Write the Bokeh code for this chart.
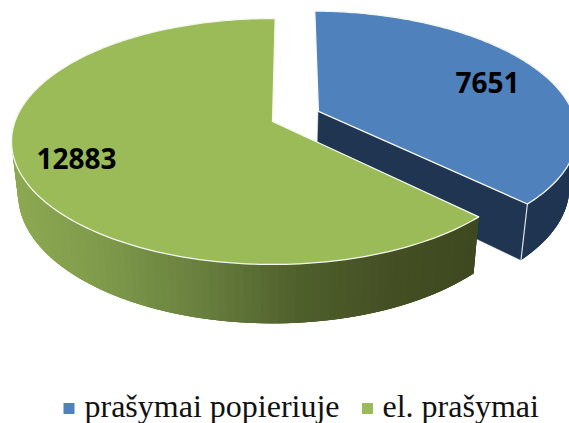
import numpy as np
from bokeh.plotting import figure
from bokeh.models import Range1d
from bokeh.embed import file_html
from bokeh.resources import INLINE
from bokeh.core.properties import value

categories = ["prašymai popieriuje", "el. prašymai"]
values = [7651, 12883]
top_colors = ["#4F81BD", "#9BBB59"]
explode = [0.2, 0.0]

# projection of the tilted disc, in page pixels
CX, CY, A, B, K = 272.0, 121.0, 257.5, 119.7, 0.1626
START_DEG = 0.7
DEPTH = 59.0
EXPLODE_TURN_DEG = -3.0
# part of each slice's rim that can show below its top face (degrees from its start)
SIDE_SKIP = [40.0, 0.0]
SIDE_STOP = [0.0, 30.0]


def project(u, v):
    d = 1 + K * v
    return CX + A * u / d, CY - B * v / d


def drop(x, y):
    return CX + 0.975 * (x - CX), y + DEPTH - 0.05 * (264 - y)


def lerp_colour(x, stops):
    xs = [s[0] for s in stops]
    rgb = [[int(s[1][i:i + 2], 16) for i in (1, 3, 5)] for s in stops]
    c = [np.interp(x, xs, [r[j] for r in rgb]) for j in range(3)]
    return "#%02x%02x%02x" % tuple(int(round(t)) for t in c)


GREEN_SIDE = [(18, "#8CA851"), (100, "#7F9A4B"), (200, "#687F3E"),
              (300, "#4F5F2C"), (400, "#434E23"), (476, "#3E4920")]
BLUE_SIDE = [(300, "#1F3552"), (569, "#1F3552")]
SIDE_STOPS = [BLUE_SIDE, GREEN_SIDE]

p = figure(width=569, height=423, output_backend="svg", toolbar_location=None,
           x_range=Range1d(0, 569), y_range=Range1d(423, 0),
           min_border=0, outline_line_color=None, background_fill_color="white")
p.axis.visible = False
p.grid.visible = False

total = sum(values)
angles = np.cumsum([0] + values) / total * 360 + START_DEG

for i in range(len(values)):
    t0, t1 = np.radians(angles[i]), np.radians(angles[i + 1])
    mid = (t0 + t1) / 2 + np.radians(EXPLODE_TURN_DEG)
    ou, ov = explode[i] * np.sin(mid), explode[i] * np.cos(mid)
    th = np.linspace(t0, t1, 181)
    ax, ay = project(ou + np.sin(th), ov + np.cos(th))
    cx0, cy0 = project(ou, ov)
    sth = np.linspace(t0 + np.radians(SIDE_SKIP[i]), t1 - np.radians(SIDE_STOP[i]), 121)
    sx, sy = project(ou + np.sin(sth), ov + np.cos(sth))
    bx, by = drop(sx, sy)
    # outer side: overlapping strips so no seams show, last drawn sits on top
    order = range(len(sth) - 1) if i == 0 else range(len(sth) - 2, -1, -1)
    for j in order:
        col = lerp_colour((sx[j] + sx[j + 1]) / 2, SIDE_STOPS[i])
        a, b = (j, min(j + 3, len(sth) - 1)) if i == 0 else (max(j - 2, 0), j + 1)
        p.patch([sx[a], sx[b], bx[b], bx[a]], [sy[a], sy[b], by[b], by[a]],
                fill_color=col, line_color=None)
    if explode[i] > 0:
        # visible cut face under the slice's trailing edge
        dx, dy = drop(cx0, cy0)
        p.patch([cx0, ax[-1], bx[-1], dx], [cy0, ay[-1], by[-1], dy],
                fill_color="#1F3552", line_color="#1F3552", line_width=0.6)
        p.line([ax[-1], bx[-1]], [ay[-1], by[-1]], line_color="#DDE3EA", line_width=1.2)
    # top face
    p.patch(np.r_[cx0, ax], np.r_[cy0, ay], fill_color=top_colors[i],
            line_color="#F4F7EE", line_width=1.3, line_join="round")

label_x = [487, 76]
label_y = [82, 158]
p.text(x=label_x, y=label_y, text=[str(v) for v in values],
       text_font=value("Open Sans"), text_font_style="bold", text_font_size="28px",
       text_color="black", text_align="center", text_baseline="middle")

p.scatter(x=[68.5, 367], y=[408, 408], size=11, marker="square",
          fill_color=top_colors, line_color=None)
p.text(x=[84, 382], y=[405, 405], text=categories,
       text_font=value("Liberation Serif"), text_font_size="32px",
       text_color="#111111", text_align="left", text_baseline="middle")

open("out.html", "w").write(file_html(p, INLINE))
